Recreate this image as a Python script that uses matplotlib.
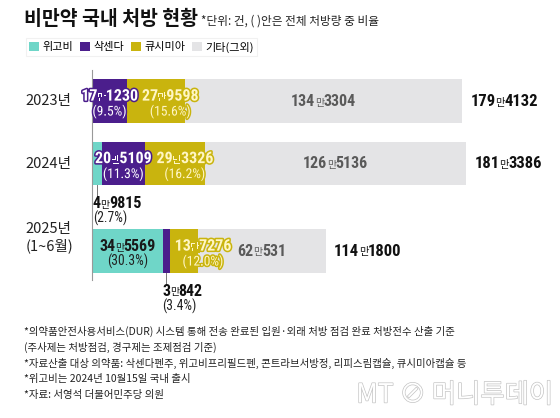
import numpy as np
import matplotlib
matplotlib.use('Agg')
import matplotlib.pyplot as plt
import matplotlib.patheffects as pe
from matplotlib.patches import Patch
from matplotlib.offsetbox import TextArea, HPacker, VPacker, AnnotationBbox
from matplotlib import font_manager

plt.rcParams['font.family'] = ['Noto Sans CJK KR', 'DejaVu Sans']

# data
years = ['2023년', '2024년', '2025년\n(1~6월)']
series = ['위고비', '삭센다', '큐시미아', '기타(그외)']
wegovy = [0, 49815, 345569]
saxenda = [171230, 205109, 30842]
qsymia = [279598, 293326, 137276]
others = [1343304, 1265136, 620531]
totals = [1794132, 1813386, 1141800]
pct_wegovy = [None, '2.7%', '30.3%']
pct_saxenda = ['9.5%', '11.3%', '3.4%']
pct_qsymia = ['15.6%', '16.2%', '12.0%']

colors = ['#6fd6c8', '#4b1e8c', '#c9b40e', '#e4e4e6']

# narrow font for the numbers if there is one
names = {f.name for f in font_manager.fontManager.ttflist}
num_fam = [n for n in ['Liberation Sans Narrow', 'Roboto Condensed', 'Arial Narrow']
           if n in names] + ['Noto Sans CJK KR']

fig = plt.figure(figsize=(5.6, 4.18), dpi=100)
W, H = 560, 418
PX = 4849.0  # values per pixel
ax = fig.add_axes([92 / W, (H - 280) / H, 2.2e6 / PX / W, 210 / H])
ax.set_xlim(0, 2.2e6)
ax.set_ylim(2.864, -0.496)
ypos = np.array([0, 1, 2.4])
bh = 0.7
qsymia_off = [31, 29, 24]   # label offset from segment start, points

data = [wegovy, saxenda, qsymia, others]
pcts = [pct_wegovy, pct_saxenda, pct_qsymia, [None] * 3]
left = np.zeros(3)
for vals, col in zip(data, colors):
    ax.barh(ypos, vals, left=left, height=bh, color=col, linewidth=0)
    left = left + np.array(vals)

for s in ['top', 'right', 'bottom']:
    ax.spines[s].set_visible(False)
ax.spines['left'].set_color('#999999')
ax.spines['left'].set_linewidth(0.8)
ax.set_xticks([])
ax.set_yticks([])


def num_box(value, size, color, weight='bold', effects=None, pct=None,
            pct_color=None, align='center'):
    man, rest = divmod(value, 10000)
    tp = dict(color=color, fontsize=size, fontweight=weight, family=num_fam)
    sp = dict(color=color, fontsize=size * 0.62, fontweight='normal',
              family=['Noto Sans CJK KR'])
    if effects:
        tp['path_effects'] = effects
        sp['path_effects'] = effects
    parts = [TextArea(str(man), textprops=tp), TextArea('만', textprops=sp),
             TextArea(str(rest), textprops=tp)]
    box = HPacker(children=parts, align='baseline', pad=0, sep=-0.3)
    if pct:
        pp = dict(color=pct_color or color, fontsize=size * 0.85, family=num_fam)
        if effects:
            pp['path_effects'] = effects
        box = VPacker(children=[box, TextArea('(' + pct + ')', textprops=pp)],
                      align=align, pad=0, sep=0)
    return box


def place(box, xy, off=(0, 0), align=(0.5, 0.5)):
    ab = AnnotationBbox(box, xy, xybox=off, xycoords='data',
                        boxcoords='offset points', box_alignment=align,
                        frameon=False, pad=0, annotation_clip=False)
    ax.add_artist(ab)


# segment labels
starts = np.zeros(3)
for k, (vals, p) in enumerate(zip(data, pcts)):
    for i in range(3):
        v = vals[i]
        if v == 0:
            continue
        mid = starts[i] + v / 2
        width_px = v / PX
        if width_px < 15:
            # callout below the bar
            ax.plot([mid, mid], [ypos[i] + bh / 2, ypos[i] + bh / 2 + 0.17],
                    color='#777777', lw=0.7, clip_on=False)
            b = num_box(v, 11.5, '#111111', pct=p[i], pct_color='#222222',
                        align='left')
            place(b, (mid, ypos[i] + bh / 2 + 0.17), off=(-3, 0), align=(0, 1))
        elif k == 0:
            b = num_box(v, 11.5, '#1a1a1a', pct=p[i], pct_color='#222222')
            place(b, (mid, ypos[i]), off=(0, -2))
        elif k == 1:
            fx = [pe.withStroke(linewidth=2.2, foreground=colors[1])]
            b = num_box(v, 11.5, 'white', effects=fx, pct=p[i])
            place(b, (mid, ypos[i]), off=(0, -2))
        elif k == 2:
            fx = [pe.withStroke(linewidth=2.2, foreground=colors[2])]
            b = num_box(v, 11.5, '#fff6c4', effects=fx, pct=p[i])
            place(b, (starts[i], ypos[i]), off=(qsymia_off[i], -2))
        else:
            b = num_box(v, 11.5, '#5a5a5a')
            place(b, (mid, ypos[i]))
    starts = starts + np.array(vals)

# totals at bar ends
for i in range(3):
    b = num_box(totals[i], 12, '#111111')
    place(b, (left[i], ypos[i]), off=(6, 0), align=(0, 0.5))

# year labels
year_dy = [0, 0, 10]
for i, lab in enumerate(years):
    ax.annotate(lab, xy=(0, ypos[i]), xytext=(-48, year_dy[i]),
                textcoords='offset points', ha='left', va='center',
                fontsize=10.5, color='#222222', linespacing=1.2)

# title and subtitle
fig.text(24 / W, 1 - 19 / H, '비만약 국내 처방 현황', fontsize=14,
         fontweight='bold', va='center', ha='left', color='#111111')
fig.text(201 / W, 1 - 21 / H, '*단위: 건, ( )안은 전체 처방량 중 비율',
         fontsize=8.4, va='center', ha='left', color='#222222')

# legend
handles = [Patch(facecolor=c, edgecolor='none') for c in colors]
leg = fig.legend(handles, series, ncol=4, loc='center left',
                 bbox_to_anchor=(26 / W, 1 - 47 / H), frameon=True,
                 fancybox=False, edgecolor='#eeeeee', fontsize=8,
                 handlelength=0.9, handleheight=0.9, handletextpad=0.3,
                 columnspacing=0.6, borderpad=0.3, borderaxespad=0)
leg.get_frame().set_linewidth(0.8)

# footnotes
notes = ['*의약품안전사용서비스(DUR) 시스템 통해 전송 완료된 입원·외래 처방 점검 완료 처방전수 산출 기준',
         '(주사제는 처방점검, 경구제는 조제점검 기준)',
         '*자료산출 대상 의약품: 삭센다펜주, 위고비프리필드펜, 콘트라브서방정, 리피스림캡슐, 큐시미아캡슐 등',
         '*위고비는 2024년 10월15일 국내 출시',
         '*자료: 서영석 더불어민주당 의원']
for j, t in enumerate(notes):
    fig.text(24 / W, 1 - (331 + 16 * j) / H, t, fontsize=7.5, va='center',
             ha='left', color='#222222')

# watermark
fig.text(553 / W, 1 - 395 / H, 'MT ⊘ 머니투데이', fontsize=19, va='center',
         ha='right', color='white', fontweight='light',
         path_effects=[pe.withStroke(linewidth=1.0, foreground='#c4c4c4')])

fig.savefig('out.png', dpi=100)
